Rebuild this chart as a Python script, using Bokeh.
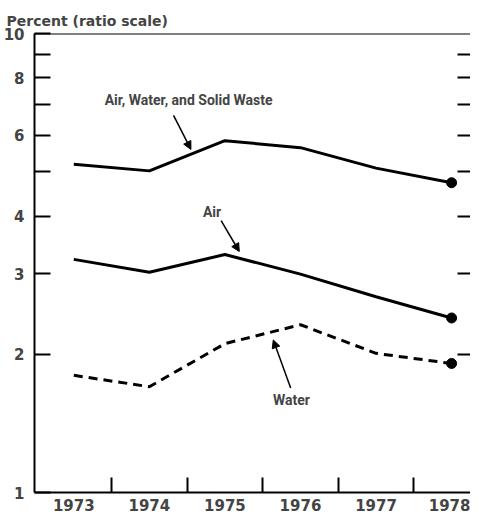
from bokeh.plotting import figure
from bokeh.models import LogAxis, FixedTicker, Span, Arrow, NormalHead, Label, Title
from bokeh.embed import file_html
from bokeh.resources import INLINE

years = [1973, 1974, 1975, 1976, 1977, 1978]
total = [5.19, 5.02, 5.84, 5.64, 5.09, 4.73]
air = [3.22, 3.02, 3.30, 2.99, 2.67, 2.40]
water = [1.80, 1.70, 2.11, 2.32, 2.01, 1.91]

y_major = [1, 2, 3, 4, 6, 8, 10]
y_minor = [5, 7, 9]
y_right = [2, 3, 4, 5, 6, 7, 8, 9]
x_minor = [1973.5, 1974.5, 1975.5, 1976.5, 1977.5]

FONT = "DejaVu Sans"
NARROW = "Roboto"

p = figure(width=470, height=513, y_axis_type="log",
           x_range=(1972.48, 1978.25), y_range=(1, 10),
           output_backend="svg", toolbar_location=None,
           min_border_left=29, min_border_right=0, min_border_top=0, min_border_bottom=0)
p.outline_line_color = None
p.grid.visible = False
p.background_fill_color = "white"

# spacer title (outermost) and real title (next to frame)
p.title.text = "."
p.title.text_color = "white"
p.title.text_font_size = "4px"
p.title.standoff = 0
p.add_layout(Title(text="Percent (ratio scale)", align="left", offset=-28,
                   text_font=FONT, text_font_size="14px", text_font_style="bold",
                   standoff=10), "above")

# left axis
ya = p.yaxis[0]
ya.ticker = FixedTicker(ticks=y_major, minor_ticks=y_minor)
ya.major_tick_in = 16
ya.major_tick_out = 0
ya.minor_tick_in = 16
ya.minor_tick_out = 0
ya.axis_line_width = 2
ya.major_tick_line_width = 2
ya.minor_tick_line_width = 2
ya.major_label_standoff = 10
ya.major_label_text_font = FONT
ya.major_label_text_font_style = "bold"
ya.major_label_text_font_size = "15px"
ya.major_label_overrides = {1: "1", 2: "2", 3: "3", 4: "4", 6: "6", 8: "8", 10: "10"}

# bottom axis
xa = p.xaxis[0]
xa.ticker = FixedTicker(ticks=years, minor_ticks=x_minor)
xa.major_tick_line_color = None
xa.major_tick_in = 0
xa.major_tick_out = 0
xa.minor_tick_in = 15
xa.minor_tick_out = 0
xa.minor_tick_line_width = 2
xa.axis_line_width = 2
xa.axis_label_standoff = 0
xa.major_label_standoff = 6
xa.major_label_text_font = FONT
xa.major_label_text_font_style = "bold"
xa.major_label_text_font_size = "15px"

# right ticks
ra = LogAxis(ticker=FixedTicker(ticks=y_right))
ra.axis_line_color = None
ra.major_tick_in = 13
ra.major_tick_out = 0
ra.major_tick_line_width = 2
ra.major_label_overrides = {t: "" for t in y_right}
ra.major_label_standoff = 0
ra.axis_label_standoff = 0
p.add_layout(ra, "right")

# top frame line
p.add_layout(Span(location=10, dimension="width", line_color="black", line_width=2))

# series
p.line(years, total, line_color="black", line_width=3)
p.line(years, air, line_color="black", line_width=3)
p.line(years, water, line_color="black", line_width=3, line_dash="9 6")
p.scatter([years[-1]] * 3, [total[-1], air[-1], water[-1]], size=10,
          color="black")

# labels and arrows
labels = [("Air, Water, and Solid Waste", 1974.52, 7.17),
          ("Air", 1974.83, 4.09),
          ("Water", 1975.88, 1.59)]
for txt, lx, ly in labels:
    p.add_layout(Label(x=lx, y=ly, text=txt, text_font=NARROW, text_font_style="bold",
                       text_font_size="14px", text_align="center",
                       text_baseline="middle"))

arrows = [(1974.32, 6.63, 1974.55, 5.59),
          (1974.95, 3.91, 1975.19, 3.35),
          (1975.87, 1.69, 1975.64, 2.15)]
for xs, ys, xe, ye in arrows:
    p.add_layout(Arrow(x_start=xs, y_start=ys, x_end=xe, y_end=ye,
                       line_width=1.5, line_color="black",
                       end=NormalHead(size=8, fill_color="black", line_color="black")))

open("out.html", "w").write(file_html(p, INLINE))
